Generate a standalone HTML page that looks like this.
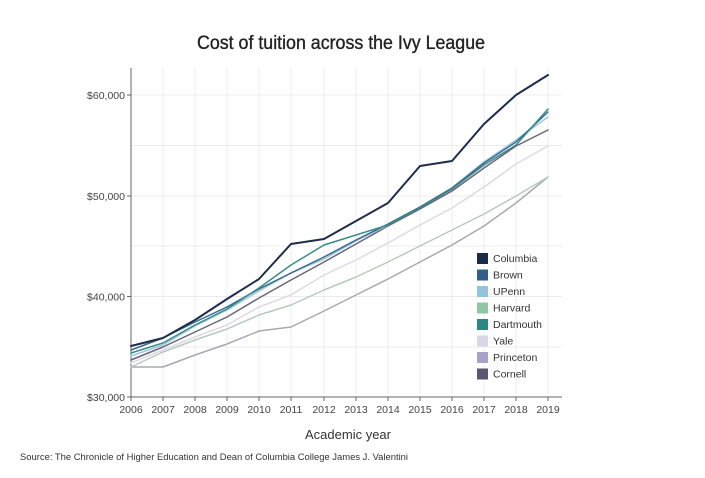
<!DOCTYPE html>
<html><head><meta charset="utf-8"><style>
html,body{margin:0;padding:0;background:#fff;}
svg{display:block;font-family:"Liberation Sans",sans-serif;}
</style></head><body>
<svg width="705" height="478" viewBox="0 0 705 478" xmlns="http://www.w3.org/2000/svg">
<rect width="705" height="478" fill="#fff"/>
<text x="197" y="49" font-size="19" fill="#222" stroke="#222" stroke-width="0.35" textLength="288" lengthAdjust="spacingAndGlyphs">Cost of tuition across the Ivy League</text>
<g stroke="#ececec" stroke-width="1">
<line x1="163" y1="68" x2="163" y2="397"/><line x1="195" y1="68" x2="195" y2="397"/><line x1="227" y1="68" x2="227" y2="397"/><line x1="259" y1="68" x2="259" y2="397"/><line x1="291" y1="68" x2="291" y2="397"/><line x1="324" y1="68" x2="324" y2="397"/><line x1="356" y1="68" x2="356" y2="397"/><line x1="388" y1="68" x2="388" y2="397"/><line x1="420" y1="68" x2="420" y2="397"/><line x1="452" y1="68" x2="452" y2="397"/><line x1="484" y1="68" x2="484" y2="397"/><line x1="516" y1="68" x2="516" y2="397"/><line x1="548" y1="68" x2="548" y2="397"/>
<line x1="131" y1="95" x2="562" y2="95"/><line x1="131" y1="145.5" x2="562" y2="145.5"/><line x1="131" y1="196" x2="562" y2="196"/><line x1="131" y1="246" x2="562" y2="246"/><line x1="131" y1="296.5" x2="562" y2="296.5"/><line x1="131" y1="347" x2="562" y2="347"/>
</g>
<g stroke="#666" stroke-width="1" fill="none">
<line x1="131" y1="68" x2="131" y2="397"/>
<line x1="131" y1="397" x2="562" y2="397"/>
<line x1="127" y1="95" x2="131" y2="95"/><line x1="127" y1="196" x2="131" y2="196"/><line x1="127" y1="296.5" x2="131" y2="296.5"/><line x1="127" y1="397" x2="131" y2="397"/>
<line x1="131" y1="397" x2="131" y2="401"/><line x1="163" y1="397" x2="163" y2="401"/><line x1="195" y1="397" x2="195" y2="401"/><line x1="227" y1="397" x2="227" y2="401"/><line x1="259" y1="397" x2="259" y2="401"/><line x1="291" y1="397" x2="291" y2="401"/><line x1="324" y1="397" x2="324" y2="401"/><line x1="356" y1="397" x2="356" y2="401"/><line x1="388" y1="397" x2="388" y2="401"/><line x1="420" y1="397" x2="420" y2="401"/><line x1="452" y1="397" x2="452" y2="401"/><line x1="484" y1="397" x2="484" y2="401"/><line x1="516" y1="397" x2="516" y2="401"/><line x1="548" y1="397" x2="548" y2="401"/>
</g>
<g font-size="10.5" fill="#444" text-anchor="end">
<text x="125" y="99">$60,000</text><text x="125" y="200">$50,000</text><text x="125" y="300.5">$40,000</text><text x="125" y="401">$30,000</text>
</g>
<g font-size="10.5" fill="#444" text-anchor="middle">
<text x="131" y="413">2006</text><text x="163" y="413">2007</text><text x="195" y="413">2008</text><text x="227" y="413">2009</text><text x="259" y="413">2010</text><text x="291" y="413">2011</text><text x="324" y="413">2012</text><text x="356" y="413">2013</text><text x="388" y="413">2014</text><text x="420" y="413">2015</text><text x="452" y="413">2016</text><text x="484" y="413">2017</text><text x="516" y="413">2018</text><text x="548" y="413">2019</text>
</g>
<text x="348" y="439" font-size="13" fill="#333" text-anchor="middle">Academic year</text>
<text x="20" y="460" font-size="9" fill="#333" textLength="388" lengthAdjust="spacingAndGlyphs">Source: The Chronicle of Higher Education and Dean of Columbia College James J. Valentini</text>
<g fill="none" stroke-linejoin="round" stroke-linecap="round">
<polyline stroke="#a8a8b4" stroke-width="1.5" points="131,367 163,367 195,355 227,344 259,331 291,327 324,311 356,295 388,279 420,262 452,245 484,226 516,203 548,177"/>
<polyline stroke="#b9c9bf" stroke-width="1.5" points="131,367 163,352 195,340 227,329 259,315 291,305 324,290 356,277 388,262 420,246 452,230 484,214 516,196 548,177"/>
<polyline stroke="#dcdae6" stroke-width="1.5" points="131,363 163,350 195,337 227,325 259,307 291,295 324,275 356,260 388,243 420,225 452,208 484,187 516,164 548,146"/>
<polyline stroke="#6a6578" stroke-width="1.5" points="131,360 163,347 195,332 227,317 259,298 291,280 324,262 356,244 388,226 420,209 452,191 484,168 516,146 548,130"/>
<polyline stroke="#9cc8de" stroke-width="1.5" points="131,356 163,345 195,326 227,310 259,291 291,273 324,259 356,241 388,225 420,207 452,188 484,162 516,140 548,117"/>
<polyline stroke="#3b6a92" stroke-width="1.5" points="131,350 163,338 195,322 227,307 259,289 291,273 324,257 356,240 388,224 420,207 452,188 484,163 516,142 548,112"/>
<polyline stroke="#3a8b88" stroke-width="1.5" points="131,353 163,343 195,325 227,309 259,288 291,265 324,245 356,235 388,225 420,208 452,189 484,165 516,145 548,109"/>
<polyline stroke="#1f2c4c" stroke-width="2" points="131,346 163,338 195,320 227,299 259,279 291,244 324,239 356,221 388,203 420,166 452,161 484,124 516,95 548,75"/>
</g>
<g>
<rect x="477" y="253" width="11" height="11" fill="#1b2a4a"/>
<rect x="477" y="269.5" width="11" height="11" fill="#2f5f8a"/>
<rect x="477" y="286" width="11" height="11" fill="#94c4dc"/>
<rect x="477" y="302.5" width="11" height="11" fill="#8fc6a6"/>
<rect x="477" y="319" width="11" height="11" fill="#2a8784"/>
<rect x="477" y="335.5" width="11" height="11" fill="#d9d6e6"/>
<rect x="477" y="352" width="11" height="11" fill="#a5a4c8"/>
<rect x="477" y="368.5" width="11" height="11" fill="#5b5670"/>
</g>
<g font-size="10.5" fill="#333">
<text x="493" y="262">Columbia</text>
<text x="493" y="278.5">Brown</text>
<text x="493" y="295">UPenn</text>
<text x="493" y="311.5">Harvard</text>
<text x="493" y="328">Dartmouth</text>
<text x="493" y="344.5">Yale</text>
<text x="493" y="361">Princeton</text>
<text x="493" y="377.5">Cornell</text>
</g>
</svg>
</body></html>
